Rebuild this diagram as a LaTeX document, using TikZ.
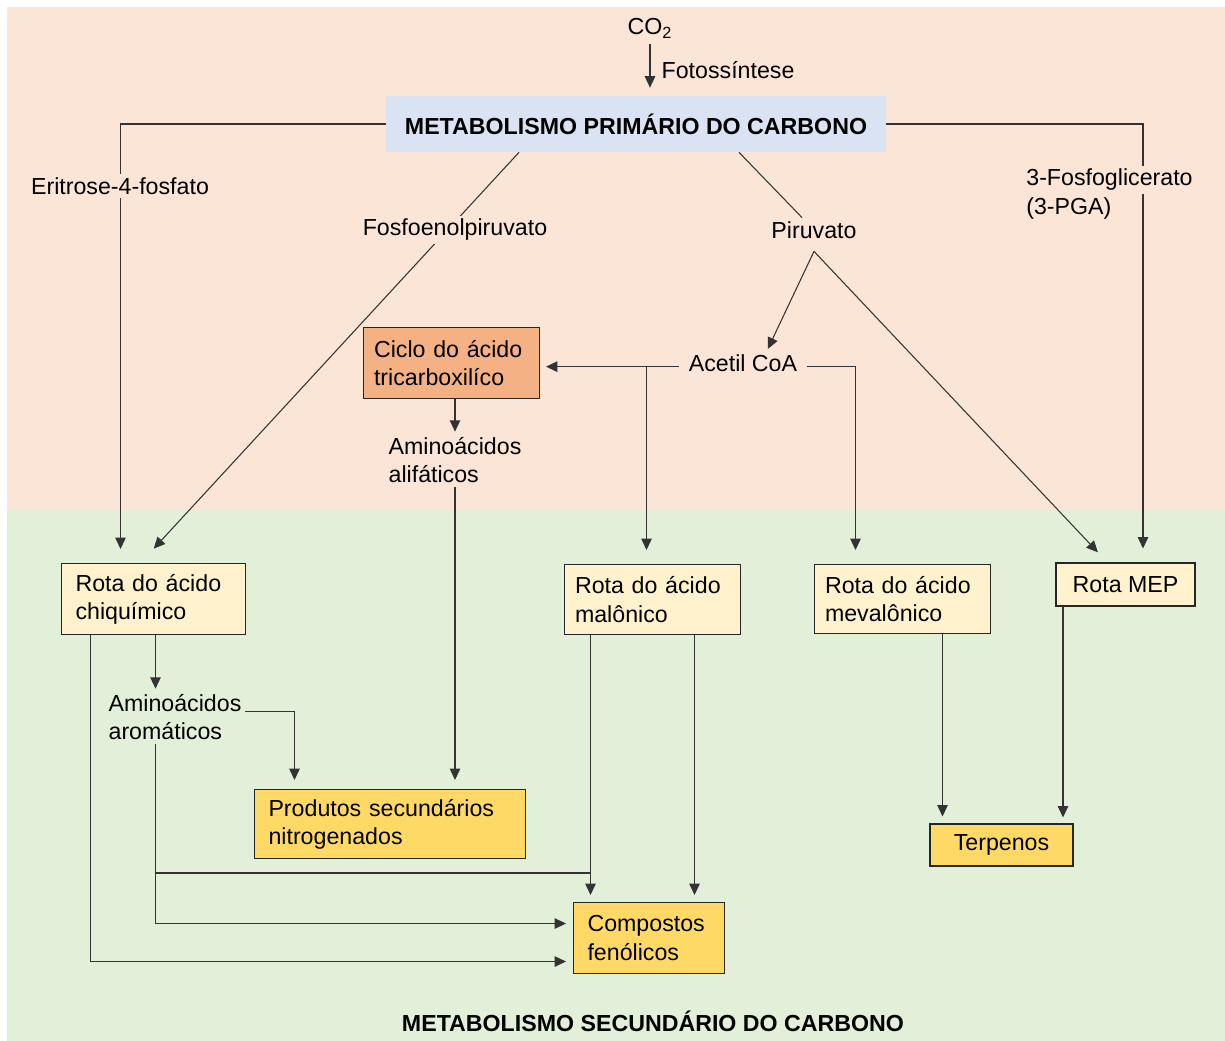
\documentclass[tikz,border=0pt]{standalone}
\usepackage{fontspec}
\setmainfont{Liberation Sans}
\usetikzlibrary{arrows.meta, positioning, calc}

\definecolor{primbg}{HTML}{FBE5D6}
\definecolor{secbg}{HTML}{E2F0D9}
\definecolor{titlefill}{HTML}{DAE3F3}
\definecolor{cyclefill}{HTML}{F4B183}
\definecolor{pathfill}{HTML}{FFF2CC}
\definecolor{prodfill}{HTML}{FFD966}

\begin{document}
\begin{tikzpicture}[
			x=0.02cm, y=-0.02cm,
			every node/.style={font=\fontsize{13.2}{16}\selectfont},
			heading/.style={font=\fontsize{13.2}{16}\selectfont\bfseries},
			box/.style={
				rectangle,
				anchor=north west,
				draw=black!85,
				line width=0.6pt,
				inner xsep=0.28cm,
				inner ysep=2pt,
				align=left
			},
			pathway/.style={box, fill=pathfill},
			product/.style={box, fill=prodfill},
			lbl/.style={inner sep=2pt, align=left},
			line/.style={draw=black!80, line width=0.6pt},
			arrow/.style={line, -{Triangle[length=6.5pt,width=6pt]}}
			]
			
			\useasboundingbox (0,0) rectangle (1225,1041);
			
			% Background
			\fill[primbg] (7,7) rectangle (1225,509);
			\fill[secbg] (7,509) rectangle (1225,1041);
			
			% Nodes
			\node (co2) at (650,28) {CO\textsubscript{2}};
			\node (title) [heading, fill=titlefill, minimum width=10cm, minimum height=1.12cm] at (636,124) {METABOLISMO PRIMÁRIO DO CARBONO};
			\node (pir) [lbl] at (814,230) {Piruvato};
			\node (acetil) [lbl, inner xsep=5.5pt] at (743,363) {Acetil CoA};
			\node (ciclo) [box, fill=cyclefill, text width=3.1cm, inner xsep=0.21cm, minimum height=1.42cm] at (363,327) {Ciclo do ácido\\tricarboxilíco};
			\node (alif) [lbl] at (455,460) {Aminoácidos\\alifáticos};
			
			\node (chiq) [pathway, text width=3.12cm, minimum height=1.42cm] at (61,563) {Rota do ácido\\chiquímico};
			\node (malo) [pathway, text width=3.1cm, inner xsep=0.21cm, minimum height=1.40cm] at (564,564) {Rota do ácido\\malônico};
			\node (meva) [pathway, text width=3.1cm, inner xsep=0.21cm, minimum height=1.38cm] at (814,564) {Rota do ácido\\mevalônico};
			\node (mep) [pathway, anchor=center, align=center, minimum width=2.78cm, minimum height=0.86cm] at (1125.5,584.5) {Rota MEP};
			
			\node (arom) [lbl] at (175,717) {Aminoácidos\\aromáticos};
			\node (prod) [product, text width=4.86cm, minimum height=1.38cm] at (254,789) {Produtos secundários\\nitrogenados};
			\node (comp) [product, text width=2.46cm, minimum height=1.42cm] at (573,902) {Compostos\\fenólicos};
			\node (terp) [product, anchor=center, align=center, minimum width=2.86cm, minimum height=0.84cm] at (1001.5,845) {Terpenos};
			
			\node (sec) [heading] at (653,1021) {METABOLISMO SECUNDÁRIO DO CARBONO};
			
			% Arrows
			\draw [arrow, shorten >=0.16cm] (co2.south) -- node[right=3pt] {Fotossíntese} (co2.south |- title.north);
			\draw [arrow, shorten >=0.28cm] (title.west) -| ($(chiq.north)+(-33,0)$);
			\draw [arrow, shorten >=0.39cm] ($(title.south)+(-117,0)$) -- ($(chiq.north)+(-13,0)$);
			\draw [line] ($(title.south)+(103,0)$) -- (pir);
			\draw [arrow, shorten >=0.28cm] (title.east) -| ($(mep.north)+(17.5,0)$);
			
			\coordinate (pv) at ($(pir.south)+(0,9)$);
			\draw [arrow, shorten >=1pt] (pv) -- ($(acetil.north)+(24,0)$);
			\draw [arrow, shorten >=0.28cm] (pv) -- ($(mep.north)+(-18,0)$);
			
			\coordinate (jm) at ($(malo.north)+(-6,0)$);
			\draw [arrow, shorten >=0.12cm] (acetil.mid west) -- (ciclo.east |- acetil.mid west);
			\draw [arrow, shorten >=0.28cm] (acetil.mid west -| jm) -- (jm);
			\draw [arrow, shorten >=0.28cm] (acetil.mid east) -| ($(meva.north)+(-47,0)$);
			
			\draw [arrow, shorten >=1pt] (ciclo.south -| alif.north) -- (alif.north);
			\draw [arrow, shorten >=0.18cm] (alif.south) -- (alif.south |- prod.north);
			
			\coordinate (ca) at ($(chiq.south)+(2,0)$);
			\coordinate (cl) at ($(chiq.south)+(-63,0)$);
			\coordinate (ml) at ($(malo.south)+(-62,0)$);
			\coordinate (mr) at ($(malo.south)+(42,0)$);
			\coordinate (mj) at ($(ml |- comp.north)+(0,-29)$);
			\coordinate (ms) at ($(meva.south)+(40,0)$);
			\coordinate (ps) at ($(mep.south)+(-62.5,0)$);
			
			\draw [arrow, shorten >=1pt] (ca) -- (ca |- arom.north);
			\draw [arrow, shorten >=0.18cm] ($(arom.north east)+(0,21)$) -| ($(prod.north)+(-95.5,0)$);
			\draw [arrow, shorten >=0.14cm] (ca |- arom.south) |- ($(comp.west)+(0,-14.5)$);
			\draw [line] (ca |- mj) -- (mj);
			\draw [arrow, shorten >=0.14cm] (ml) -- (ml |- comp.north);
			\draw [arrow, shorten >=0.14cm] (mr) -- (mr |- comp.north);
			\draw [arrow, shorten >=0.14cm] (cl) |- ($(comp.west)+(0,23.5)$);
			\draw [arrow, shorten >=0.14cm] (ms) -- (ms |- terp.north);
			\draw [arrow, shorten >=0.12cm] (ps) -- (ps |- terp.north);
			
			% Labels on the lines
			\node (era) [lbl, fill=primbg] at (120,186) {Eritrose-4-fosfato};
			\node (pep) [lbl, fill=primbg] at (455,230) {Fosfoenolpiruvato};
			\node (pga) [lbl, fill=primbg, anchor=west] at (1022.5,180) {3-Fosfoglicerato};
			\node (pgb) [lbl, anchor=west] at (1022.5,208) {(3-PGA)};
			
		\end{tikzpicture}
\end{document}
